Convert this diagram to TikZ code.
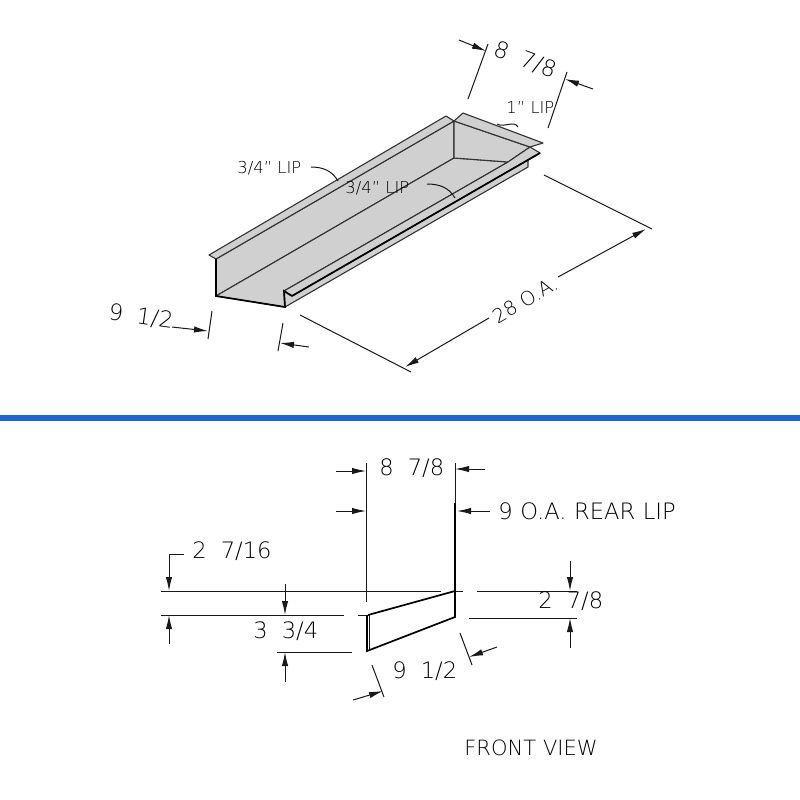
\documentclass[tikz,border=0pt]{standalone}
\usepackage{fontspec}
\setmainfont{DejaVu Sans ExtraLight}
\usepackage{xcolor}
\usetikzlibrary{arrows.meta}
\definecolor{panelgray}{RGB}{208,208,208}
\definecolor{barblue}{RGB}{30,104,208}
\newcommand{\dimgap}{\hspace{0.62em}}
\tikzset{
dimline/.style={draw=black!90,line width=0.5pt},
dimarrow/.style={dimline,-{Latex[length=7pt,width=3.2pt]}},
heavy/.style={draw=black,line width=0.85pt},
panel/.style={fill=panelgray,draw=black!80,line width=0.55pt,line join=round},
dimtext/.style={inner sep=0pt,font=\fontsize{11.3}{13}\selectfont},
liptext/.style={inner sep=0pt,font=\fontsize{8.2}{10}\selectfont},
}
\begin{document}
\begin{tikzpicture}[x=0.5pt,y=-0.5pt]
\useasboundingbox (0,0) rectangle (800,800);
\fill[white] (0,0) rectangle (800,800);
\fill[barblue] (0,415) rectangle (800,421);
% tray
\coordinate (LT) at (209,255);
\coordinate (LF) at (216,259);
\coordinate (LB) at (216,296);
\coordinate (FB) at (285,307);
\coordinate (FT) at (284,291);
\coordinate (FL) at (292,296);
\coordinate (BT) at (446,116);
\coordinate (BC) at (454,121);
\coordinate (BB) at (454,158);
\coordinate (BR) at (508,162);
\coordinate (RT) at (463,113);
\coordinate (RR) at (543,143);
\coordinate (RF) at (530,147);
\coordinate (SF) at (540,153);
\coordinate (ST) at (528,160);
\coordinate (SB) at (528,167);
\draw[panel] (LF) -- (BC) -- (BB) -- (LB) -- cycle;
\draw[panel] (LB) -- (BB) -- (BR) -- (FT) -- (FB) -- cycle;
\draw[panel] (BC) -- (BB) -- (BR) -- (RF) -- cycle;
\draw[panel] (LT) -- (BT) -- (BC) -- (LF) -- cycle;
\draw[panel] (BC) -- (RT) -- (RR) -- (RF) -- cycle;
\draw[panel] (FT) -- (BR) -- (RF) -- (SF) -- (FL) -- cycle;
\draw[panel] (FT) -- (FL) -- (SF) -- (ST) -- (SB) -- (FB) -- cycle;
\draw[heavy] (FL) -- (SF);
\draw[heavy] (LF) -- (LB) -- (FB) -- (FT) -- (FL);
% labels on the tray
\node[liptext,anchor=west] (liptop) at (237,168) {3/4" LIP};
\node[liptext,anchor=west] (lipmid) at (345,188) {3/4" LIP};
\node[liptext,anchor=west] (liprear) at (506,108) {1" LIP};
\coordinate (liptopstart) at (311,167);
\coordinate (liptopend) at (338,181);
\coordinate (lipmidstart) at (427,184);
\coordinate (lipmidend) at (455,198);
\coordinate (liprearA) at (497,124);
\coordinate (liprearB) at (518,127);
\draw[dimline] (liptopstart) to[out=0,in=120] (liptopend);
\draw[dimline] (lipmidstart) to[out=0,in=120] (lipmidend);
\draw[dimline] (liprearA) to[out=-30,in=120] (liprearB);
% 8 7/8 top
\coordinate (TA) at (488,44);
\coordinate (TB) at (468,99);
\coordinate (TC) at (567,72);
\coordinate (TD) at (548,128);
\coordinate (TE) at (459,40);
\coordinate (TF) at (486,51);
\coordinate (TG) at (593,89);
\coordinate (TH) at (565,79);
\draw[dimline] (TA) -- (TB);
\draw[dimline] (TC) -- (TD);
\draw[dimarrow] (TE) -- (TF);
\draw[dimarrow] (TG) -- (TH);
\node[dimtext,rotate=-20] (topwidth) at (525,60) {8\dimgap 7/8};
% 9 1/2 left
\coordinate (LA) at (212,311);
\coordinate (LC) at (208,339);
\coordinate (LD) at (283,323);
\coordinate (LE) at (278,351);
\coordinate (LG) at (172,327);
\coordinate (LH) at (208,331);
\coordinate (LI) at (309,347);
\coordinate (LJ) at (280,343);
\draw[dimline] (LA) -- (LC);
\draw[dimline] (LD) -- (LE);
\draw[dimarrow] (LG) -- (LH);
\draw[dimarrow] (LI) -- (LJ);
\node[dimtext,rotate=-8] (leftwidth) at (141,317) {9\dimgap 1/2};
% 28 O.A.
\coordinate (OA) at (300,315);
\coordinate (OB) at (411,372);
\coordinate (OC) at (544,175);
\coordinate (OD) at (652,229);
\coordinate (OE) at (489,318);
\coordinate (OF) at (405,367);
\coordinate (OG) at (558,277);
\coordinate (OH) at (646,229);
\draw[dimline] (OA) -- (OB);
\draw[dimline] (OC) -- (OD);
\draw[dimarrow] (OE) -- (OF);
\draw[dimarrow] (OG) -- (OH);
\node[dimtext,font=\fontsize{9.8}{12}\selectfont,rotate=30] (overall) at (525,300) {28 O.A.};
% front view
\coordinate (VA) at (366,463);
\coordinate (VB) at (366,602);
\coordinate (VC) at (455,463);
\coordinate (VD) at (455,590);
\coordinate (VE) at (336,471);
\coordinate (VF) at (366,471);
\coordinate (VG) at (336,511);
\coordinate (VH) at (366,511);
\coordinate (VI) at (485,469);
\coordinate (VJ) at (455,469);
\coordinate (VK) at (490,511);
\coordinate (VL) at (457,511);
\draw[dimline] (VA) -- (VB);
\draw[dimline] (VC) -- (VD);
\draw[dimarrow] (VE) -- (VF);
\draw[dimarrow] (VG) -- (VH);
\draw[dimarrow] (VI) -- (VJ);
\draw[dimarrow] (VK) -- (VL);
\node[dimtext,anchor=west] (frontwidth) at (379,468) {8\dimgap 7/8};
\node[dimtext,anchor=west] (rearlip) at (498,511) {9\,\,O.A.\,\,REAR\,\,LIP};
% section
\coordinate (SA) at (358,615);
\coordinate (SC) at (368,615);
\coordinate (SD) at (455,591);
\coordinate (SE) at (463,591);
\coordinate (SG) at (455,503);
\coordinate (SH) at (455,617);
\coordinate (SI) at (367,651);
\coordinate (SJ) at (367,615);
\coordinate (SK) at (369.5,615);
\coordinate (SL) at (369.5,649);
\draw[dimline] (SA) -- (SC);
\draw[heavy] (SC) -- (SD);
\draw[dimline] (SD) -- (SE);
\draw[heavy] (SG) -- (SH) -- (SI) -- (SJ);
\draw[dimline] (SK) -- (SL);
% horizontal dimensions
\coordinate (HA) at (161,591);
\coordinate (HB) at (441,591);
\coordinate (HC) at (161,615);
\coordinate (HD) at (344,615);
\coordinate (HE) at (277,652);
\coordinate (HF) at (352,652);
\coordinate (HG) at (477,591);
\coordinate (HH) at (577,591);
\coordinate (HI) at (469,618);
\coordinate (HJ) at (577,618);
\draw[dimline] (HA) -- (HB);
\draw[dimline] (HC) -- (HD);
\draw[dimline] (HE) -- (HF);
\draw[dimline] (HG) -- (HH);
\draw[dimline] (HI) -- (HJ);
\coordinate (QA) at (184,554);
\coordinate (QB) at (169,554);
\coordinate (QC) at (169,591);
\coordinate (QD) at (169,644);
\coordinate (QE) at (169,615);
\coordinate (QF) at (285,584);
\coordinate (QG) at (285,615);
\coordinate (QH) at (285,682);
\coordinate (QI) at (285,652);
\coordinate (QJ) at (570,561);
\coordinate (QK) at (570,591);
\coordinate (QL) at (570,648);
\coordinate (QM) at (570,618);
\draw[dimarrow] (QA) -- (QB) -- (QC);
\draw[dimarrow] (QD) -- (QE);
\draw[dimarrow] (QF) -- (QG);
\draw[dimarrow] (QH) -- (QI);
\draw[dimarrow] (QJ) -- (QK);
\draw[dimarrow] (QL) -- (QM);
\node[dimtext,anchor=west] (upper) at (192,551) {2\dimgap 7/16};
\node[dimtext,anchor=west] (lower) at (253,631) {3\dimgap 3/4};
\node[dimtext,anchor=west] (rightlip) at (538,601) {2\dimgap 7/8};
% 9 1/2 section
\coordinate (WA) at (372,665);
\coordinate (WB) at (384,697);
\coordinate (WC) at (460,633);
\coordinate (WD) at (472,665);
\coordinate (WE) at (353,700);
\coordinate (WF) at (383,691);
\coordinate (WG) at (497,647);
\coordinate (WH) at (469,657);
\draw[dimline] (WA) -- (WB);
\draw[dimline] (WC) -- (WD);
\draw[dimarrow] (WE) -- (WF);
\draw[dimarrow] (WG) -- (WH);
\node[dimtext,anchor=west] (sectwidth) at (392,671) {9\dimgap 1/2};
\node[dimtext,font=\fontsize{10.5}{12}\selectfont,anchor=west] (frontview) at (464,748) {FRONT\,\,VIEW};
\end{tikzpicture}
\end{document}
